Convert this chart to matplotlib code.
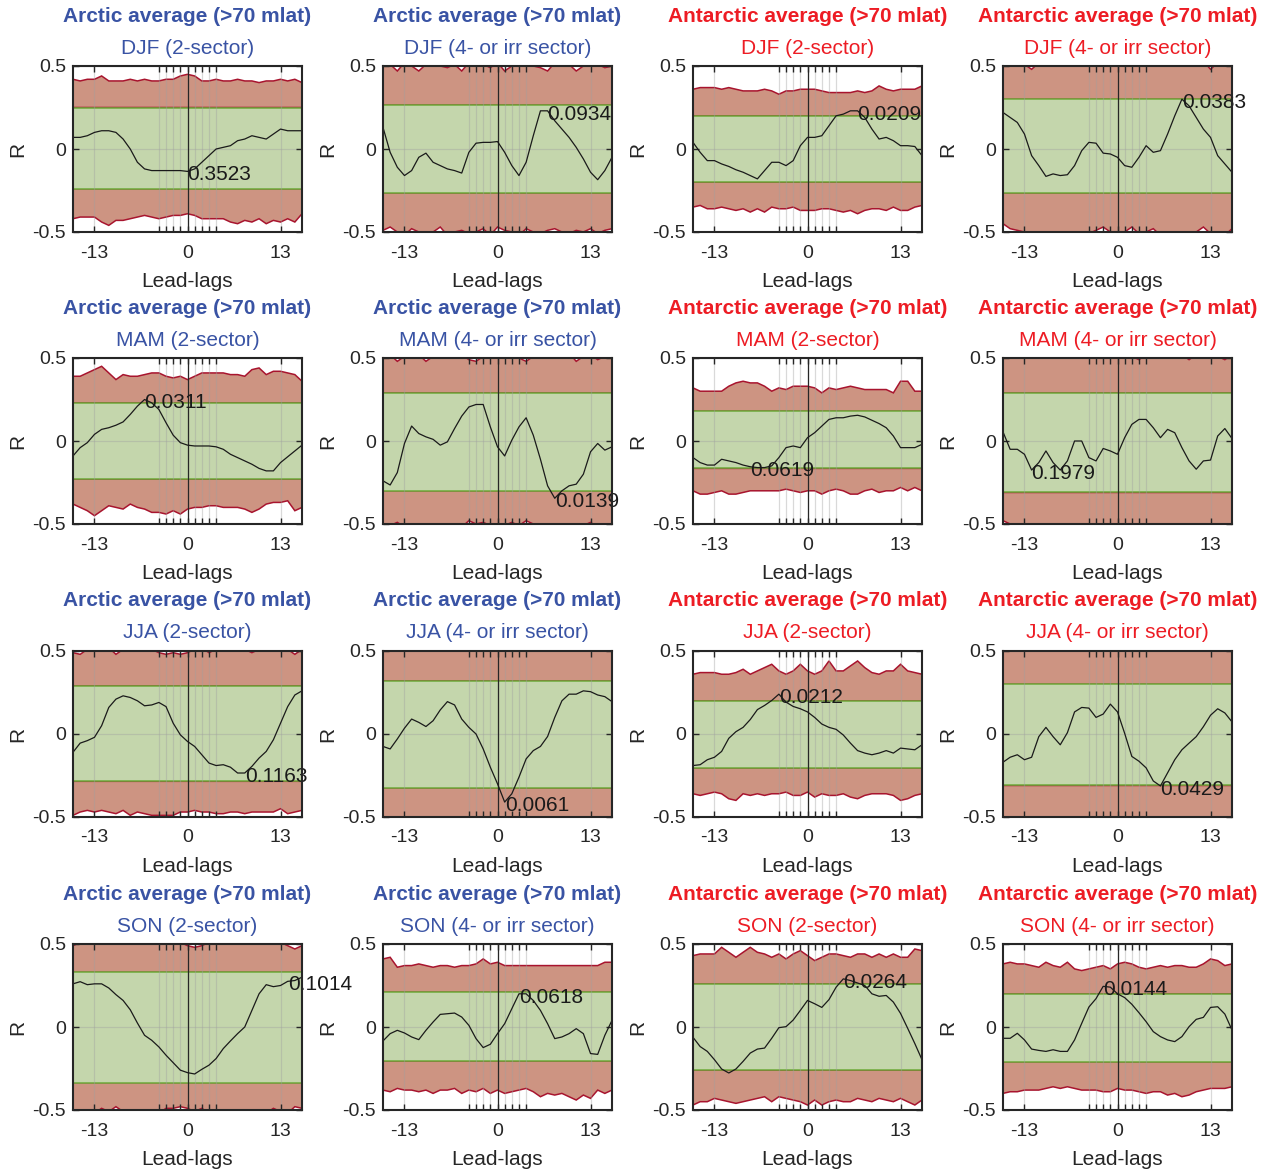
import numpy as np
import matplotlib
matplotlib.use("Agg")
import matplotlib.pyplot as plt

plt.rcParams['font.family'] = ['Liberation Sans', 'DejaVu Sans']

lags = np.arange(-16, 17)
seasons = ['DJF', 'MAM', 'JJA', 'SON']
regions = ['Arctic average (>70 mlat)', 'Arctic average (>70 mlat)',
           'Antarctic average (>70 mlat)', 'Antarctic average (>70 mlat)']
sectors = ['2-sector', '4- or irr sector', '2-sector', '4- or irr sector']
region_colors = ['#3953A4', '#3953A4', '#ED1C24', '#ED1C24']

# ---- correlation curves (R vs lead-lag) ----
r_arc_djf_2 = [0.07, 0.07, 0.08, 0.10, 0.11, 0.11, 0.10, 0.06, 0.00, -0.08, -0.12, -0.13, -0.13, -0.13, -0.13, -0.13, -0.135,
               -0.12, -0.08, -0.04, 0.00, 0.01, 0.02, 0.05, 0.06, 0.08, 0.07, 0.06, 0.09, 0.12, 0.11, 0.11, 0.11]
r_arc_djf_4 = [0.13, -0.02, -0.11, -0.16, -0.13, -0.05, -0.025, -0.08, -0.10, -0.12, -0.13, -0.145, -0.02, 0.035, 0.04, 0.04, 0.045,
               -0.02, -0.10, -0.16, -0.08, 0.08, 0.23, 0.23, 0.17, 0.12, 0.07, 0.01, -0.06, -0.14, -0.185, -0.13, -0.05]
r_ant_djf_2 = [0.04, -0.02, -0.07, -0.07, -0.09, -0.105, -0.125, -0.14, -0.16, -0.18, -0.13, -0.08, -0.08, -0.10, -0.07, 0.02, 0.07,
               0.07, 0.08, 0.14, 0.20, 0.21, 0.23, 0.23, 0.19, 0.12, 0.06, 0.07, 0.05, 0.02, 0.02, 0.015, -0.04]
r_ant_djf_4 = [0.22, 0.19, 0.16, 0.09, -0.04, -0.10, -0.165, -0.15, -0.16, -0.155, -0.10, -0.01, 0.04, 0.035, -0.025, -0.03, -0.05,
               -0.10, -0.11, -0.05, 0.02, -0.02, -0.01, 0.09, 0.20, 0.30, 0.26, 0.19, 0.12, 0.07, -0.04, -0.09, -0.14]
r_arc_mam_2 = [-0.09, -0.04, -0.01, 0.04, 0.07, 0.08, 0.095, 0.115, 0.16, 0.21, 0.25, 0.23, 0.19, 0.11, 0.035, -0.01, -0.025,
               -0.03, -0.03, -0.03, -0.035, -0.05, -0.08, -0.10, -0.12, -0.14, -0.165, -0.18, -0.18, -0.13, -0.095, -0.06, -0.025]
r_arc_mam_4 = [-0.24, -0.265, -0.19, -0.015, 0.09, 0.045, 0.025, 0.01, -0.025, -0.005, 0.075, 0.15, 0.205, 0.22, 0.22, 0.085, -0.035,
               -0.09, 0.005, 0.085, 0.14, 0.035, -0.11, -0.27, -0.345, -0.30, -0.27, -0.26, -0.20, -0.065, -0.015, -0.055, -0.035]
r_ant_mam_2 = [-0.10, -0.13, -0.145, -0.145, -0.11, -0.12, -0.13, -0.145, -0.155, -0.16, -0.16, -0.15, -0.10, -0.04, -0.03, -0.04, 0.02,
               0.05, 0.09, 0.13, 0.14, 0.14, 0.15, 0.155, 0.145, 0.125, 0.105, 0.08, 0.03, -0.04, -0.04, -0.04, -0.02]
r_ant_mam_4 = [0.055, -0.05, -0.05, -0.08, -0.175, -0.13, -0.06, -0.13, -0.175, -0.12, 0.0, 0.0, -0.10, -0.12, -0.045, -0.06, -0.08,
               0.02, 0.10, 0.13, 0.13, 0.08, 0.02, 0.07, 0.05, -0.04, -0.12, -0.17, -0.12, -0.115, 0.03, 0.075, 0.015]
r_arc_jja_2 = [-0.11, -0.055, -0.04, -0.02, 0.05, 0.16, 0.21, 0.23, 0.22, 0.20, 0.17, 0.175, 0.19, 0.165, 0.065, -0.005, -0.045,
               -0.075, -0.125, -0.175, -0.19, -0.185, -0.20, -0.235, -0.235, -0.195, -0.145, -0.105, -0.035, 0.065, 0.165, 0.235, 0.26]
r_arc_jja_4 = [-0.075, -0.09, -0.03, 0.035, 0.09, 0.07, 0.045, 0.08, 0.145, 0.195, 0.175, 0.09, 0.04, 0.0, -0.09, -0.20, -0.30,
               -0.41, -0.36, -0.26, -0.15, -0.10, -0.075, -0.015, 0.10, 0.20, 0.24, 0.24, 0.26, 0.255, 0.235, 0.225, 0.195]
r_ant_jja_2 = [-0.19, -0.185, -0.155, -0.14, -0.105, -0.026, 0.014, 0.04, 0.087, 0.147, 0.172, 0.202, 0.24, 0.192, 0.166, 0.152, 0.133,
               0.10, 0.06, 0.04, 0.028, -0.006, -0.055, -0.10, -0.115, -0.125, -0.115, -0.10, -0.115, -0.085, -0.09, -0.095, -0.065]
r_ant_jja_4 = [-0.17, -0.14, -0.125, -0.155, -0.14, -0.016, 0.04, -0.016, -0.065, 0.008, 0.133, 0.16, 0.156, 0.10, 0.12, 0.18, 0.133,
               0.004, -0.135, -0.164, -0.204, -0.283, -0.313, -0.234, -0.155, -0.095, -0.055, -0.016, 0.044, 0.113, 0.152, 0.127, 0.073]
r_arc_son_2 = [0.26, 0.273, 0.255, 0.26, 0.26, 0.235, 0.195, 0.16, 0.104, 0.024, -0.05, -0.08, -0.12, -0.17, -0.215, -0.26, -0.275,
               -0.283, -0.255, -0.23, -0.19, -0.13, -0.084, -0.04, 0.0, 0.10, 0.20, 0.255, 0.243, 0.25, 0.275, 0.28, 0.30]
r_arc_son_4 = [-0.084, -0.04, -0.02, -0.036, -0.06, -0.076, -0.02, 0.03, 0.076, 0.08, 0.084, 0.06, 0.01, -0.07, -0.124, -0.104, -0.04,
               0.02, 0.11, 0.20, 0.20, 0.16, 0.10, 0.02, -0.07, -0.06, -0.04, -0.01, -0.04, -0.16, -0.165, -0.05, 0.04]
r_ant_son_2 = [-0.062, -0.118, -0.147, -0.197, -0.253, -0.277, -0.253, -0.207, -0.157, -0.133, -0.127, -0.068, -0.004, 0.002, 0.042, 0.10, 0.16,
               0.14, 0.118, 0.165, 0.24, 0.29, 0.28, 0.265, 0.25, 0.20, 0.185, 0.19, 0.15, 0.082, -0.008, -0.10, -0.197]
r_ant_son_4 = [-0.068, -0.068, -0.038, -0.078, -0.133, -0.141, -0.147, -0.137, -0.147, -0.147, -0.078, 0.022, 0.12, 0.171, 0.245, 0.24, 0.20,
               0.177, 0.137, 0.086, 0.032, -0.028, -0.058, -0.078, -0.088, -0.058, 0.002, 0.046, 0.058, 0.118, 0.122, 0.078, -0.018]

# ---- upper / lower edges of the red (surrogate spread) envelopes ----
up_arc_djf_2 = [0.42, 0.41, 0.42, 0.42, 0.44, 0.41, 0.41, 0.41, 0.42, 0.41, 0.42, 0.41, 0.41, 0.42, 0.42, 0.44, 0.45,
                0.44, 0.41, 0.41, 0.42, 0.41, 0.41, 0.42, 0.41, 0.41, 0.40, 0.41, 0.41, 0.42, 0.41, 0.42, 0.40]
lo_arc_djf_2 = [-0.42, -0.41, -0.41, -0.41, -0.44, -0.46, -0.43, -0.43, -0.42, -0.41, -0.40, -0.41, -0.42, -0.41, -0.40, -0.40, -0.39,
                -0.40, -0.42, -0.42, -0.42, -0.42, -0.44, -0.45, -0.43, -0.44, -0.42, -0.45, -0.43, -0.44, -0.42, -0.44, -0.39]
up_arc_djf_4 = [0.50, 0.51, 0.47, 0.52, 0.50, 0.47, 0.51, 0.53, 0.50, 0.49, 0.51, 0.47, 0.52, 0.50, 0.51, 0.49, 0.52,
                0.47, 0.50, 0.52, 0.51, 0.50, 0.49, 0.47, 0.52, 0.50, 0.51, 0.47, 0.50, 0.52, 0.51, 0.49, 0.50]
lo_arc_djf_4 = [-0.49, -0.47, -0.50, -0.52, -0.48, -0.50, -0.51, -0.50, -0.47, -0.52, -0.50, -0.49, -0.51, -0.50, -0.48, -0.52, -0.47,
                -0.49, -0.50, -0.52, -0.48, -0.50, -0.51, -0.49, -0.48, -0.50, -0.51, -0.49, -0.50, -0.48, -0.51, -0.49, -0.48]
up_ant_djf_2 = [0.36, 0.37, 0.37, 0.37, 0.36, 0.37, 0.36, 0.35, 0.35, 0.35, 0.36, 0.35, 0.33, 0.35, 0.35, 0.36, 0.36,
                0.36, 0.35, 0.34, 0.34, 0.34, 0.34, 0.35, 0.34, 0.35, 0.38, 0.36, 0.35, 0.36, 0.36, 0.36, 0.38]
lo_ant_djf_2 = [-0.35, -0.34, -0.36, -0.36, -0.35, -0.36, -0.37, -0.36, -0.38, -0.36, -0.38, -0.35, -0.36, -0.36, -0.35, -0.37, -0.37,
                -0.37, -0.36, -0.36, -0.37, -0.38, -0.37, -0.39, -0.37, -0.36, -0.36, -0.37, -0.35, -0.37, -0.37, -0.35, -0.34]
up_ant_djf_4 = [0.53, 0.52, 0.54, 0.51, 0.48, 0.52, 0.53, 0.52, 0.54, 0.53, 0.52, 0.51, 0.53, 0.52, 0.54, 0.53, 0.52,
                0.53, 0.51, 0.53, 0.54, 0.52, 0.53, 0.52, 0.54, 0.52, 0.53, 0.51, 0.53, 0.48, 0.52, 0.53, 0.52]
lo_ant_djf_4 = [-0.45, -0.48, -0.49, -0.50, -0.51, -0.52, -0.51, -0.50, -0.52, -0.51, -0.50, -0.52, -0.51, -0.49, -0.47, -0.50, -0.52,
                -0.50, -0.47, -0.51, -0.50, -0.48, -0.52, -0.51, -0.50, -0.52, -0.51, -0.50, -0.47, -0.51, -0.50, -0.52, -0.48]
up_arc_mam_2 = [0.39, 0.39, 0.41, 0.43, 0.45, 0.41, 0.37, 0.40, 0.39, 0.39, 0.40, 0.41, 0.41, 0.39, 0.38, 0.39, 0.37,
                0.39, 0.41, 0.41, 0.41, 0.41, 0.40, 0.40, 0.39, 0.43, 0.44, 0.40, 0.42, 0.42, 0.41, 0.40, 0.36]
lo_arc_mam_2 = [-0.38, -0.40, -0.42, -0.45, -0.42, -0.39, -0.40, -0.41, -0.38, -0.40, -0.41, -0.43, -0.43, -0.44, -0.42, -0.44, -0.41,
                -0.40, -0.40, -0.39, -0.39, -0.40, -0.40, -0.40, -0.41, -0.43, -0.41, -0.38, -0.37, -0.37, -0.36, -0.42, -0.40]
up_arc_mam_4 = [0.51, 0.52, 0.48, 0.51, 0.53, 0.52, 0.48, 0.51, 0.52, 0.53, 0.51, 0.52, 0.49, 0.48, 0.51, 0.52, 0.53,
                0.51, 0.52, 0.50, 0.48, 0.51, 0.52, 0.53, 0.52, 0.51, 0.53, 0.48, 0.51, 0.52, 0.49, 0.51, 0.52]
lo_arc_mam_4 = [-0.52, -0.51, -0.49, -0.52, -0.53, -0.51, -0.52, -0.53, -0.51, -0.52, -0.50, -0.52, -0.48, -0.50, -0.49, -0.51, -0.52,
                -0.51, -0.49, -0.51, -0.48, -0.50, -0.52, -0.51, -0.52, -0.51, -0.52, -0.53, -0.51, -0.49, -0.52, -0.51, -0.52]
up_ant_mam_2 = [0.32, 0.30, 0.30, 0.30, 0.30, 0.33, 0.35, 0.36, 0.35, 0.35, 0.33, 0.30, 0.32, 0.31, 0.33, 0.33, 0.33,
                0.32, 0.29, 0.32, 0.31, 0.32, 0.33, 0.32, 0.31, 0.31, 0.31, 0.31, 0.29, 0.36, 0.36, 0.30, 0.30]
lo_ant_mam_2 = [-0.30, -0.32, -0.32, -0.31, -0.30, -0.32, -0.32, -0.31, -0.30, -0.30, -0.30, -0.30, -0.30, -0.29, -0.30, -0.31, -0.30,
                -0.30, -0.32, -0.30, -0.29, -0.30, -0.32, -0.32, -0.30, -0.29, -0.31, -0.30, -0.30, -0.28, -0.30, -0.28, -0.30]
up_ant_mam_4 = [0.53, 0.52, 0.54, 0.53, 0.52, 0.53, 0.54, 0.52, 0.53, 0.52, 0.54, 0.53, 0.52, 0.53, 0.54, 0.52, 0.53,
                0.52, 0.51, 0.49, 0.52, 0.53, 0.51, 0.52, 0.53, 0.52, 0.49, 0.52, 0.53, 0.52, 0.51, 0.49, 0.52]
lo_ant_mam_4 = [-0.48, -0.50, -0.52, -0.53, -0.52, -0.53, -0.54, -0.52, -0.53, -0.52, -0.54, -0.53, -0.52, -0.53, -0.54, -0.52, -0.53,
                -0.52, -0.53, -0.54, -0.52, -0.53, -0.52, -0.54, -0.53, -0.52, -0.53, -0.54, -0.52, -0.53, -0.52, -0.53, -0.52]
up_arc_jja_2 = [0.49, 0.48, 0.51, 0.52, 0.51, 0.52, 0.48, 0.51, 0.52, 0.51, 0.52, 0.51, 0.49, 0.48, 0.49, 0.48, 0.49,
                0.51, 0.52, 0.49, 0.51, 0.52, 0.51, 0.52, 0.51, 0.49, 0.51, 0.52, 0.51, 0.52, 0.51, 0.48, 0.51]
lo_arc_jja_2 = [-0.49, -0.47, -0.46, -0.47, -0.46, -0.47, -0.48, -0.46, -0.49, -0.47, -0.48, -0.49, -0.49, -0.49, -0.49, -0.47, -0.47,
                -0.46, -0.47, -0.47, -0.48, -0.48, -0.47, -0.47, -0.48, -0.47, -0.47, -0.47, -0.47, -0.45, -0.48, -0.47, -0.46]
up_arc_jja_4 = [0.56, 0.57, 0.55, 0.56, 0.58, 0.56, 0.55, 0.57, 0.56, 0.55, 0.57, 0.56, 0.58, 0.56, 0.55, 0.57, 0.56,
                0.55, 0.56, 0.57, 0.55, 0.56, 0.58, 0.56, 0.57, 0.55, 0.56, 0.57, 0.55, 0.56, 0.57, 0.56, 0.55]
lo_arc_jja_4 = [-0.57, -0.56, -0.55, -0.58, -0.56, -0.57, -0.55, -0.56, -0.57, -0.58, -0.56, -0.55, -0.57, -0.56, -0.58, -0.55, -0.56,
                -0.57, -0.56, -0.55, -0.57, -0.58, -0.56, -0.55, -0.57, -0.56, -0.58, -0.55, -0.57, -0.56, -0.55, -0.57, -0.56]
up_ant_jja_2 = [0.36, 0.37, 0.37, 0.37, 0.36, 0.36, 0.37, 0.39, 0.36, 0.38, 0.40, 0.42, 0.38, 0.36, 0.38, 0.42, 0.38,
                0.36, 0.38, 0.44, 0.38, 0.38, 0.41, 0.44, 0.40, 0.37, 0.36, 0.38, 0.38, 0.42, 0.38, 0.37, 0.36]
lo_ant_jja_2 = [-0.36, -0.37, -0.36, -0.35, -0.36, -0.39, -0.40, -0.36, -0.37, -0.36, -0.37, -0.36, -0.36, -0.35, -0.37, -0.37, -0.35,
                -0.38, -0.36, -0.37, -0.37, -0.36, -0.38, -0.39, -0.37, -0.36, -0.36, -0.36, -0.37, -0.40, -0.39, -0.37, -0.36]
up_ant_jja_4 = [0.57, 0.56, 0.58, 0.55, 0.56, 0.57, 0.56, 0.55, 0.58, 0.56, 0.57, 0.55, 0.56, 0.58, 0.57, 0.56, 0.55,
                0.56, 0.57, 0.58, 0.56, 0.55, 0.57, 0.56, 0.58, 0.55, 0.56, 0.57, 0.56, 0.55, 0.58, 0.56, 0.57]
lo_ant_jja_4 = [-0.56, -0.58, -0.55, -0.57, -0.56, -0.55, -0.58, -0.56, -0.57, -0.55, -0.56, -0.58, -0.57, -0.55, -0.56, -0.57, -0.58,
                -0.55, -0.56, -0.57, -0.55, -0.58, -0.56, -0.57, -0.55, -0.56, -0.58, -0.57, -0.55, -0.56, -0.57, -0.55, -0.58]
up_arc_son_2 = [0.49, 0.51, 0.52, 0.51, 0.52, 0.51, 0.52, 0.51, 0.52, 0.51, 0.52, 0.51, 0.52, 0.51, 0.52, 0.51, 0.49,
                0.48, 0.49, 0.51, 0.52, 0.51, 0.52, 0.51, 0.52, 0.51, 0.52, 0.51, 0.52, 0.51, 0.49, 0.47, 0.49]
lo_arc_son_2 = [-0.51, -0.52, -0.51, -0.52, -0.49, -0.51, -0.48, -0.51, -0.52, -0.51, -0.52, -0.51, -0.52, -0.49, -0.49, -0.48, -0.49,
                -0.51, -0.49, -0.52, -0.51, -0.52, -0.51, -0.52, -0.51, -0.52, -0.51, -0.52, -0.49, -0.51, -0.52, -0.48, -0.49]
up_arc_son_4 = [0.41, 0.42, 0.36, 0.37, 0.37, 0.38, 0.37, 0.36, 0.37, 0.37, 0.36, 0.37, 0.37, 0.38, 0.41, 0.38, 0.39,
                0.37, 0.37, 0.37, 0.37, 0.37, 0.37, 0.37, 0.37, 0.37, 0.37, 0.37, 0.37, 0.37, 0.37, 0.39, 0.39]
lo_arc_son_4 = [-0.38, -0.39, -0.37, -0.38, -0.38, -0.39, -0.38, -0.40, -0.38, -0.38, -0.37, -0.40, -0.38, -0.39, -0.37, -0.40, -0.38,
                -0.40, -0.39, -0.38, -0.37, -0.39, -0.42, -0.40, -0.41, -0.40, -0.42, -0.44, -0.41, -0.43, -0.38, -0.40, -0.38]
up_ant_son_2 = [0.43, 0.44, 0.44, 0.44, 0.48, 0.45, 0.42, 0.45, 0.48, 0.45, 0.44, 0.42, 0.44, 0.41, 0.44, 0.46, 0.43,
                0.40, 0.42, 0.44, 0.44, 0.43, 0.42, 0.44, 0.44, 0.42, 0.44, 0.42, 0.44, 0.42, 0.42, 0.47, 0.46]
lo_ant_son_2 = [-0.47, -0.45, -0.45, -0.43, -0.44, -0.45, -0.46, -0.45, -0.44, -0.43, -0.42, -0.45, -0.42, -0.43, -0.44, -0.45, -0.47,
                -0.44, -0.47, -0.45, -0.44, -0.45, -0.45, -0.43, -0.44, -0.45, -0.43, -0.44, -0.45, -0.43, -0.45, -0.47, -0.44]
up_ant_son_4 = [0.38, 0.39, 0.38, 0.38, 0.37, 0.36, 0.39, 0.37, 0.36, 0.39, 0.35, 0.34, 0.35, 0.36, 0.37, 0.35, 0.38,
                0.39, 0.38, 0.36, 0.35, 0.36, 0.37, 0.36, 0.37, 0.37, 0.36, 0.36, 0.38, 0.41, 0.40, 0.37, 0.38]
lo_ant_son_4 = [-0.40, -0.39, -0.39, -0.38, -0.38, -0.38, -0.37, -0.36, -0.37, -0.36, -0.37, -0.38, -0.38, -0.38, -0.39, -0.39, -0.37,
                -0.38, -0.38, -0.39, -0.40, -0.39, -0.39, -0.41, -0.40, -0.42, -0.41, -0.39, -0.38, -0.37, -0.37, -0.37, -0.36]

# ---- green significance band limits, row by row (DJF, MAM, JJA, SON) ----
sig_hi = [0.25, 0.265, 0.20, 0.30,
          0.23, 0.29, 0.18, 0.29,
          0.29, 0.32, 0.20, 0.30,
          0.33, 0.21, 0.26, 0.20]
sig_lo = [-0.24, -0.265, -0.20, -0.265,
          -0.23, -0.30, -0.165, -0.31,
          -0.285, -0.325, -0.205, -0.31,
          -0.335, -0.205, -0.26, -0.21]

# ---- p-value labels and the lag they sit at ----
note_txt = ['0.3523', '0.0934', '0.0209', '0.0383',
            '0.0311', '0.0139', '0.0619', '0.1979',
            '0.1163', '0.0061', '0.0212', '0.0429',
            '0.1014', '0.0618', '0.0264', '0.0144']
note_lag = [0, 7, 7, 9,
            -6, 8, -8, -12,
            8, 1, -4, 6,
            14, 3, 5, -2]

curves = [r_arc_djf_2, r_arc_djf_4, r_ant_djf_2, r_ant_djf_4,
          r_arc_mam_2, r_arc_mam_4, r_ant_mam_2, r_ant_mam_4,
          r_arc_jja_2, r_arc_jja_4, r_ant_jja_2, r_ant_jja_4,
          r_arc_son_2, r_arc_son_4, r_ant_son_2, r_ant_son_4]
uppers = [up_arc_djf_2, up_arc_djf_4, up_ant_djf_2, up_ant_djf_4,
          up_arc_mam_2, up_arc_mam_4, up_ant_mam_2, up_ant_mam_4,
          up_arc_jja_2, up_arc_jja_4, up_ant_jja_2, up_ant_jja_4,
          up_arc_son_2, up_arc_son_4, up_ant_son_2, up_ant_son_4]
lowers = [lo_arc_djf_2, lo_arc_djf_4, lo_ant_djf_2, lo_ant_djf_4,
          lo_arc_mam_2, lo_arc_mam_4, lo_ant_mam_2, lo_ant_mam_4,
          lo_arc_jja_2, lo_arc_jja_4, lo_ant_jja_2, lo_ant_jja_4,
          lo_arc_son_2, lo_arc_son_4, lo_ant_son_2, lo_ant_son_4]

xticks = [-13, -4, -3, -2, -1, 0, 1, 2, 3, 4, 13]
xtick_labels = ['-13', '', '', '', '', '0', '', '', '', '', '13']

RED_FILL = '#CD9482'
RED_EDGE = '#A8142E'
GREEN_FILL = '#C4D6AC'
GREEN_EDGE = '#6DAA3A'
INK = '#262626'

W, H = 1266, 1173
fig = plt.figure(figsize=(W / 100, H / 100), dpi=100)

col_left = [73, 383, 693, 1003]
row_top = [66, 358, 651, 944]
ax_w, ax_h = 229, 166

for i in range(16):
    row, col = divmod(i, 4)
    ax = fig.add_axes([col_left[col] / W, 1 - (row_top[row] + ax_h) / H, ax_w / W, ax_h / H])

    r = np.array(curves[i])
    up = np.array(uppers[i])
    lo = np.array(lowers[i])
    hi_lvl = np.full_like(lags, sig_hi[i], dtype=float)
    lo_lvl = np.full_like(lags, sig_lo[i], dtype=float)

    # red envelopes above and below the significance band
    ax.fill(np.concatenate([lags, lags[::-1]]), np.concatenate([up, hi_lvl[::-1]]),
            facecolor=RED_FILL, edgecolor=RED_EDGE, lw=1.1, zorder=1)
    ax.fill(np.concatenate([lags, lags[::-1]]), np.concatenate([lo, lo_lvl[::-1]]),
            facecolor=RED_FILL, edgecolor=RED_EDGE, lw=1.1, zorder=1)
    # green band
    ax.fill_between(lags, lo_lvl, hi_lvl, facecolor=GREEN_FILL, edgecolor=GREEN_EDGE, lw=1.1, zorder=1.2)

    ax.axvline(0, color=INK, lw=0.9, zorder=3)
    ax.plot(lags, r, color='#1a1a1a', lw=0.9, zorder=4)

    k = note_lag[i] + 16
    ax.text(note_lag[i], r[k] - 0.02, note_txt[i], fontsize=15, color='#1a1a1a',
            ha='left', va='center', zorder=5, clip_on=False)

    ax.set_xlim(-16, 16)
    ax.set_ylim(-0.5, 0.5)
    ax.set_xticks(xticks)
    ax.set_xticklabels(xtick_labels)
    ax.set_yticks([-0.5, 0, 0.5])
    ax.set_yticklabels(['-0.5', '0', '0.5'])
    ax.set_axisbelow(False)
    ax.grid(True, color='#a0a0a0', alpha=0.4, lw=0.9, zorder=2.5)
    ax.tick_params(direction='in', top=True, right=True, length=4, width=1,
                   color=INK, labelcolor=INK, labelsize=14, pad=9)
    ax.tick_params(axis='y', pad=5)
    for sp in ax.spines.values():
        sp.set_color(INK)
        sp.set_linewidth(1.5)
        sp.set_zorder(6)

    ax.set_xlabel('Lead-lags', fontsize=15, color=INK)
    ax.xaxis.set_label_coords(0.5, -0.24)
    ax.set_ylabel('R', fontsize=15, color=INK)
    ax.yaxis.set_label_coords(-0.2, 0.5)

    ax.text(0.5, 1 + 18 / ax_h, f'{seasons[row]} ({sectors[col]})', transform=ax.transAxes,
            ha='center', va='center', fontsize=15, color=region_colors[col])
    ax.text(0.5, 1 + 50 / ax_h, regions[col], transform=ax.transAxes,
            ha='center', va='center', fontsize=15, fontweight='bold', color=region_colors[col])

fig.savefig('out.png', dpi=100)
